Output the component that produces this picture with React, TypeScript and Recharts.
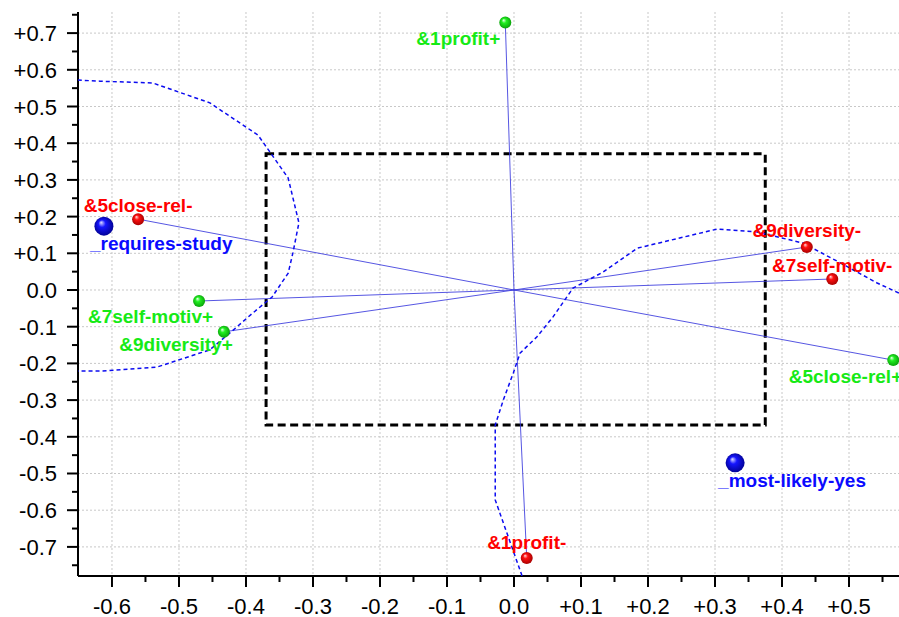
import React from "react"
import {
    ScatterChart, Scatter, XAxis, YAxis, CartesianGrid, ReferenceLine, ReferenceArea,
} from "recharts"

// poles of each construct
const plusNames = ["&1profit+", "&5close-rel+", "&7self-motiv+", "&9diversity+"]
const plusX = [-0.013, 0.566, -0.470, -0.433]
const plusY = [0.729, -0.191, -0.030, -0.114]
const minusNames = ["&1profit-", "&5close-rel-", "&7self-motiv-", "&9diversity-"]
const minusX = [0.019, -0.561, 0.475, 0.437]
const minusY = [-0.730, 0.193, 0.030, 0.117]
// class points
const classNames = ["_requires-study", "_most-likely-yes"]
const classX = [-0.612, 0.330]
const classY = [0.174, -0.471]

// dashed hull curves
const curve1X = [-0.651, -0.618, -0.539, -0.454, -0.382, -0.337, -0.321, -0.330, -0.337, -0.361, -0.390, -0.424, -0.454, -0.533, -0.618, -0.651]
const curve1Y = [0.572, 0.569, 0.564, 0.510, 0.422, 0.305, 0.183, 0.101, 0.046, -0.019, -0.063, -0.117, -0.163, -0.210, -0.221, -0.221]
const curve2X = [0.012, -0.028, -0.028, -0.016, -0.001, 0.009, 0.034, 0.058, 0.088, 0.133, 0.184, 0.303, 0.363, 0.431, 0.487, 0.542, 0.58]
const curve2Y = [-0.779, -0.572, -0.368, -0.300, -0.226, -0.172, -0.128, -0.074, 0.005, 0.049, 0.114, 0.166, 0.158, 0.128, 0.074, 0.019, -0.013]

// inner box
const boxX = [-0.370, 0.375]
const boxY = [-0.368, 0.371]

const xMajor = [-0.6, -0.5, -0.4, -0.3, -0.2, -0.1, 0, 0.1, 0.2, 0.3, 0.4, 0.5]
const xTicks = [-0.6, -0.55, -0.5, -0.45, -0.4, -0.35, -0.3, -0.25, -0.2, -0.15, -0.1, -0.05, 0, 0.05, 0.1, 0.15, 0.2, 0.25, 0.3, 0.35, 0.4, 0.45, 0.5, 0.55]
const yMajor = [-0.7, -0.6, -0.5, -0.4, -0.3, -0.2, -0.1, 0, 0.1, 0.2, 0.3, 0.4, 0.5, 0.6, 0.7]
const yTicks = [-0.75, -0.7, -0.65, -0.6, -0.55, -0.5, -0.45, -0.4, -0.35, -0.3, -0.25, -0.2, -0.15, -0.1, -0.05, 0, 0.05, 0.1, 0.15, 0.2, 0.25, 0.3, 0.35, 0.4, 0.45, 0.5, 0.55, 0.6, 0.65, 0.7, 0.75]

const FONT = "'Liberation Sans', Arial, sans-serif"
const GREEN = "#16ea16"
const RED = "#ff0000"
const BLUE = "#0a0aff"

// label placement around each marker
const LABEL: Record<string, { a: "start" | "middle" | "end"; dx: number; dy: number }> = {
    "&1profit+": { a: "end", dx: -5, dy: 23 },
    "&1profit-": { a: "middle", dx: 0, dy: -9 },
    "&5close-rel+": { a: "end", dx: 9, dy: 23 },
    "&5close-rel-": { a: "middle", dx: 0, dy: -7 },
    "&7self-motiv+": { a: "end", dx: 14, dy: 22 },
    "&7self-motiv-": { a: "middle", dx: 0, dy: -7 },
    "&9diversity+": { a: "end", dx: 9, dy: 19 },
    "&9diversity-": { a: "middle", dx: 0, dy: -10 },
    "_requires-study": { a: "start", dx: -14, dy: 24 },
    "_most-likely-yes": { a: "start", dx: -17, dy: 24 },
}

const toPts = (names: string[], xs: number[], ys: number[]) => xs.map((x, i) => ({ name: names[i], x, y: ys[i] }))
const plusData = toPts(plusNames, plusX, plusY)
const minusData = toPts(minusNames, minusX, minusY)
const classData = toPts(classNames, classX, classY)
const curve1 = curve1X.map((x, i) => ({ x, y: curve1Y[i] }))
const curve2 = curve2X.map((x, i) => ({ x, y: curve2Y[i] }))

const isMajor = (v: number) => Math.abs(Math.round(v * 100)) % 10 === 0
const fmt = (v: number) => {
    const r = Math.round(v * 10) / 10
    if (Math.abs(r) < 1e-9) return "0.0"
    return (r > 0 ? "+" : "") + r.toFixed(1)
}

function YTick(p: any) {
    const v = p.payload.value
    const major = isMajor(v)
    return (
        <g>
            <line x1={p.x} x2={p.x - (major ? 11 : 6)} y1={p.y} y2={p.y} stroke="#000" strokeWidth={2} />
            {major && <text x={p.x - 21} y={p.y + 8} textAnchor="end" fontSize={22} fontFamily={FONT} fill="#000">{fmt(v)}</text>}
        </g>
    )
}

function XTick(p: any) {
    const v = p.payload.value
    const major = isMajor(v)
    return (
        <g>
            <line x1={p.x} x2={p.x} y1={p.y} y2={p.y + (major ? 11 : 6)} stroke="#000" strokeWidth={2} />
            {major && <text x={p.x} y={p.y + 38} textAnchor="middle" fontSize={22} fontFamily={FONT} fill="#000">{fmt(v)}</text>}
        </g>
    )
}

const ball = (grad: string, color: string, r: number) => (p: any) => {
    const l = LABEL[p.payload.name]
    return (
        <g>
            <circle cx={p.cx} cy={p.cy} r={r} fill={`url(#${grad})`} />
            <text x={p.cx + l.dx} y={p.cy + l.dy} textAnchor={l.a} fontSize={19} fontWeight="bold"
                fontFamily={FONT} fill={color}>{p.payload.name}</text>
        </g>
    )
}

const noDot = () => <g />

function Grad({ id, hi, mid, lo }: { id: string; hi: string; mid: string; lo: string }) {
    return (
        <radialGradient id={id} cx="50%" cy="50%" r="55%" fx="35%" fy="30%">
            <stop offset="0%" stopColor={hi} />
            <stop offset="35%" stopColor={mid} />
            <stop offset="100%" stopColor={lo} />
        </radialGradient>
    )
}

export default function App() {
    const segs = [...plusData, ...minusData]
    return (
        <div style={{ position: "absolute", left: 0, top: 0, width: 899, height: 617, background: "#fff", overflow: "hidden" }}>
            <ScatterChart width={899} height={617} margin={{ top: 12, right: 0, bottom: 0, left: 0 }}>
                <defs>
                    <Grad id="gGreen" hi="#f0fff0" mid="#22f022" lo="#089a08" />
                    <Grad id="gRed" hi="#ffe0e0" mid="#ff1010" lo="#a00000" />
                    <Grad id="gBlue" hi="#e0e0ff" mid="#1515ff" lo="#00008a" />
                </defs>
                <CartesianGrid stroke="#c8c8c8" strokeDasharray="2 2"
                    horizontalValues={yMajor} verticalValues={xMajor} />
                <XAxis type="number" dataKey="x" domain={[-0.6507, 0.5746]} allowDataOverflow
                    ticks={xTicks} interval={0} height={41} tickSize={0} tickMargin={0} tickLine={false}
                    tick={<XTick />} axisLine={{ stroke: "#000", strokeWidth: 2 }} />
                <YAxis type="number" dataKey="y" domain={[-0.7793, 0.7575]} allowDataOverflow
                    ticks={yTicks} interval={0} width={78} tickSize={0} tickMargin={0} tickLine={false}
                    tick={<YTick />} axisLine={{ stroke: "#000", strokeWidth: 2 }} />
                <ReferenceArea x1={boxX[0]} x2={boxX[1]} y1={boxY[0]} y2={boxY[1]}
                    fill="none" fillOpacity={0} stroke="#000" strokeWidth={3} strokeDasharray="8 4.5" />
                {segs.map(s => (
                    <ReferenceLine key={s.name} segment={[{ x: 0, y: 0 }, { x: s.x, y: s.y }]}
                        stroke="#3838dd" strokeWidth={1} strokeOpacity={0.85} />
                ))}
                <Scatter data={curve1} line={{ stroke: "#0c0cf0", strokeWidth: 1.5, strokeDasharray: "4 3" }}
                    lineType="joint" shape={noDot} isAnimationActive={false} />
                <Scatter data={curve2} line={{ stroke: "#0c0cf0", strokeWidth: 1.5, strokeDasharray: "4 3" }}
                    lineType="joint" shape={noDot} isAnimationActive={false} />
                <Scatter data={plusData} shape={ball("gGreen", GREEN, 6)} isAnimationActive={false} />
                <Scatter data={minusData} shape={ball("gRed", RED, 6)} isAnimationActive={false} />
                <Scatter data={classData} shape={ball("gBlue", BLUE, 9.5)} isAnimationActive={false} />
            </ScatterChart>
        </div>
    )
}
